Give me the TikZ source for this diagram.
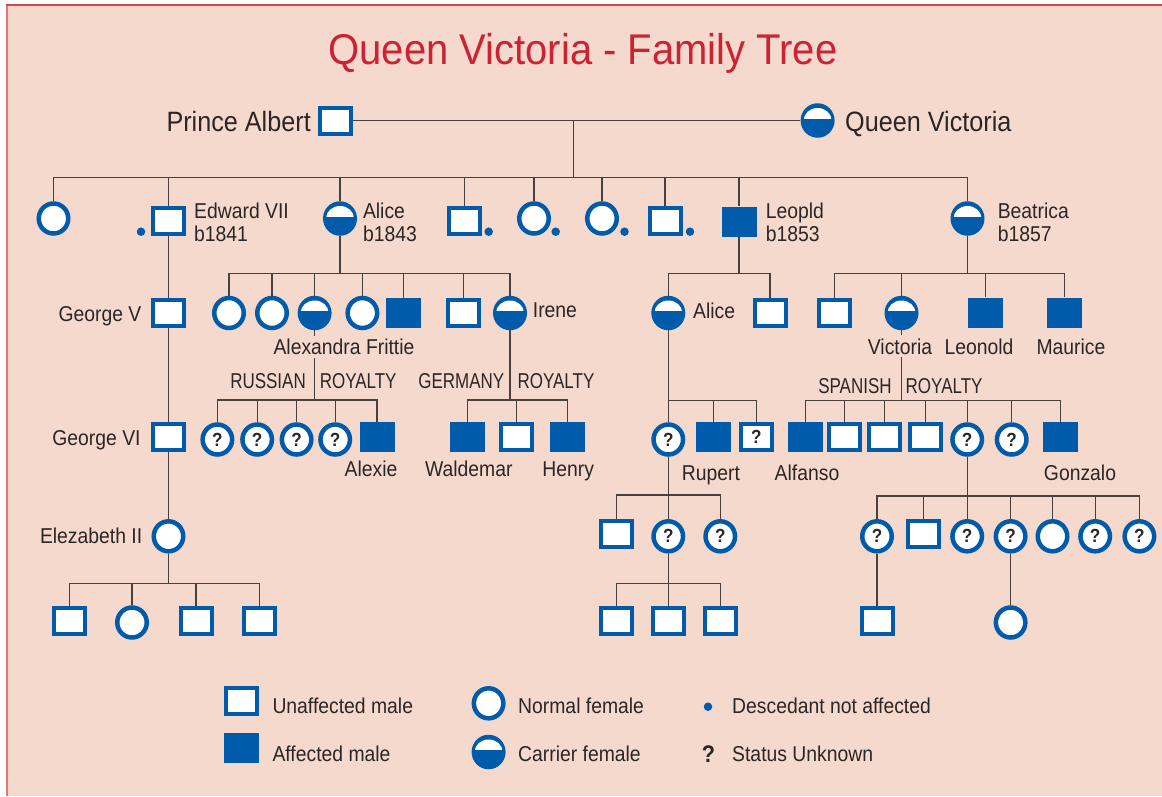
\documentclass[tikz,border=0pt]{standalone}
\usepackage{fontspec}
\setmainfont{Liberation Sans}[FakeStretch=0.9]
\newfontfamily\titlefont{Liberation Sans}[FakeStretch=0.93]
\newfontfamily\capsfont{Liberation Sans}[FakeStretch=0.79]
\usetikzlibrary{shapes.geometric}
\definecolor{bgc}{HTML}{F5D9CD}
\definecolor{ped}{HTML}{005BAA}
\definecolor{lnc}{HTML}{4A3F3F}
\definecolor{txc}{HTML}{2B2626}
\definecolor{ttl}{HTML}{CC2233}
\definecolor{brl}{HTML}{E27878}
\definecolor{brt}{HTML}{D04848}
\pgfdeclarelayer{back}
\pgfdeclarelayer{lines}
\pgfsetlayers{back,lines,main}
\newcommand\qsym{\fontsize{19}{19}\selectfont\bfseries ?}
\begin{document}
\begin{tikzpicture}[x=1pt,y=-1pt,
  um/.style={rectangle,draw=ped,line width=4pt,fill=white,minimum width=31pt,minimum height=26pt,inner sep=0pt,text=txc},
  am/.style={rectangle,fill=ped,minimum width=35pt,minimum height=30pt,inner sep=0pt},
  nf/.style={ellipse,draw=ped,line width=4.5pt,fill=white,minimum width=29.5pt,minimum height=30pt,inner sep=0pt,text=txc},
  cf/.style={ellipse,fill=ped,minimum width=34pt,minimum height=34.5pt,inner sep=0pt,
    path picture={
      \begin{scope}
      \clip ([yshift=2.5pt]path picture bounding box.center) ++(-20pt,0pt) rectangle ++(40pt,20pt);
      \fill[white] (path picture bounding box.center) ellipse [x radius=14pt,y radius=12.5pt];
      \end{scope}}},
  dot/.style={circle,fill=ped,minimum size=8.5pt,inner sep=0pt},
  lab/.style={font=\fontsize{21.5}{24}\selectfont,text=txc,inner sep=0pt},
  caps/.style={font=\capsfont\fontsize{21.5}{24}\selectfont,text=txc,inner sep=0pt},
  big/.style={font=\fontsize{28}{30}\selectfont,text=txc,inner sep=0pt},
  con/.style={draw=lnc,line width=1.2pt}]
\useasboundingbox (0,0) rectangle (1162,796);
\begin{pgfonlayer}{back}
\fill[bgc] (6,4) rectangle (1162,796);
\draw[brl,line width=2.5pt] (7.2,4) -- (7.2,796);
\draw[brt,line width=2pt] (6,5) -- (1162,5);
\end{pgfonlayer}

% title
\node[inner sep=0pt,anchor=base,text=ttl,font=\titlefont\fontsize{43}{45}\selectfont] (title) at (583,64) {Queen Victoria - Family Tree};

% generation 0
\node[um] (pa) at (335.6,120.5) {};
\node[cf] (qv) at (817.6,120.5) {};
\node[big,anchor=base east] (tpa) at (311,131.7) {Prince Albert};
\node[big,anchor=base west] (tqv) at (845,131.7) {Queen Victoria};

% generation 1
\node[nf] (c1) at (53.5,218.5) {};
\node[um] (ed) at (168.5,221) {};
\node[cf] (al) at (340,218.5) {};
\node[um] (c4) at (464.6,221) {};
\node[nf] (c5) at (534,218.5) {};
\node[nf] (c6) at (602,218.5) {};
\node[um] (c7) at (665,221) {};
\node[am] (le) at (739,221.5) {};
\node[cf] (be) at (967.5,218.5) {};
\node[dot] (d1) at (141,231.7) {};
\node[dot] (d2) at (488.7,231.7) {};
\node[dot] (d3) at (555.7,231.7) {};
\node[dot] (d4) at (624.5,231.7) {};
\node[dot] (d5) at (690,231.7) {};
\node[lab,anchor=base west] (ted1) at (194,218.3) {Edward VII};
\node[lab,anchor=base west] (ted2) at (194,241.7) {b1841};
\node[lab,anchor=base west] (tal1) at (362.8,218.3) {Alice};
\node[lab,anchor=base west] (tal2) at (362.8,241.7) {b1843};
\node[lab,anchor=base west] (tle1) at (765.6,218.3) {Leopld};
\node[lab,anchor=base west] (tle2) at (765.6,241.7) {b1853};
\node[lab,anchor=base west] (tbe1) at (997.6,218.3) {Beatrica};
\node[lab,anchor=base west] (tbe2) at (997.6,241.7) {b1857};

% generation 2
\node[um] (g5) at (168.5,312.5) {};
\node[lab,anchor=base east] (tg5) at (141.6,321.7) {George V};
\node[nf] (a1) at (229,313) {};
\node[nf] (a2) at (272,313) {};
\node[cf] (a3) at (314.6,313) {};
\node[nf] (a4) at (362.4,313) {};
\node[am] (a5) at (403.7,313.3) {};
\node[um] (a6) at (463.8,313.3) {};
\node[cf] (a7) at (510,313) {};
\node[lab,anchor=base west] (tir) at (532.7,317.5) {Irene};
\node[lab,anchor=base,fill=bgc,inner sep=3pt] (tax) at (344,354.3) {Alexandra Frittie};
\node[cf] (lal) at (668.3,313) {};
\node[um] (l2) at (770,312.5) {};
\node[lab,anchor=base west] (tlal) at (693,318) {Alice};
\node[um] (b1) at (834.6,312.5) {};
\node[cf] (bv) at (901.5,313) {};
\node[am] (b3) at (985.3,312.5) {};
\node[am] (b4) at (1064.4,312.5) {};
\node[lab,anchor=base,fill=bgc,inner sep=3pt] (tbv) at (900,354) {Victoria};
\node[lab,anchor=base] (tb3) at (979,354) {Leonold};
\node[lab,anchor=base] (tb4) at (1071,354) {Maurice};

% generation 3
\node[caps,anchor=base east] (tru1) at (306,388.3) {RUSSIAN};
\node[caps,anchor=base west] (tru2) at (319.6,388.3) {ROYALTY};
\node[caps,anchor=base east] (tge1) at (504.4,388.3) {GERMANY};
\node[caps,anchor=base west] (tge2) at (517.4,388.3) {ROYALTY};
\node[caps,anchor=base east] (tsp1) at (891.8,393.3) {SPANISH};
\node[caps,anchor=base west] (tsp2) at (905.5,393.3) {ROYALTY};
\node[um] (g6) at (168.5,436.8) {};
\node[lab,anchor=base east] (tg6) at (140.8,445) {George VI};
\node[nf] (q1) at (217.4,439.5) {\qsym};
\node[nf] (q2) at (257.2,439.5) {\qsym};
\node[nf] (q3) at (296.6,439.5) {\qsym};
\node[nf] (q4) at (335.2,439.5) {\qsym};
\node[am] (ax) at (377,436.7) {};
\node[lab,anchor=base] (tax2) at (371,476.7) {Alexie};
\node[am] (wa) at (467.7,436.7) {};
\node[um] (gm) at (516.6,436.7) {};
\node[am] (he) at (567.5,436.7) {};
\node[lab,anchor=base] (twa) at (468.8,476.7) {Waldemar};
\node[lab,anchor=base] (the) at (568.3,476.7) {Henry};
\node[nf] (rq1) at (668.3,439.5) {\qsym};
\node[am] (ru) at (713.6,437) {};
\node[um] (rq3) at (756.3,437) {\qsym};
\node[lab,anchor=base] (tru) at (711,480) {Rupert};
\node[am] (s1) at (805.7,437) {};
\node[um] (s2) at (844.3,437) {};
\node[um] (s3) at (884.4,437) {};
\node[um] (s4) at (925.2,437) {};
\node[nf] (s5) at (967.2,439.5) {\qsym};
\node[nf] (s6) at (1011.7,439.5) {\qsym};
\node[am] (s7) at (1060.7,437) {};
\node[lab,anchor=base] (ts1) at (807,480) {Alfanso};
\node[lab,anchor=base] (ts7) at (1080,480) {Gonzalo};

% generation 4
\node[nf] (el) at (168.5,536.3) {};
\node[lab,anchor=base east] (tel) at (142.4,543.3) {Elezabeth II};
\node[um] (t1) at (616.4,534) {};
\node[nf] (t2) at (668.3,536.3) {\qsym};
\node[nf] (t3) at (720.3,536.3) {\qsym};
\node[nf] (u1) at (877,536.3) {\qsym};
\node[um] (u2) at (923.4,534) {};
\node[nf] (u3) at (967.2,536.3) {\qsym};
\node[nf] (u4) at (1010.6,536.3) {\qsym};
\node[nf] (u5) at (1052.5,536.3) {};
\node[nf] (u6) at (1095.2,536.3) {\qsym};
\node[nf] (u7) at (1139.4,536.3) {\qsym};

% generation 5
\node[um] (e1) at (69.7,620.5) {};
\node[nf] (e2) at (132,622.5) {};
\node[um] (e3) at (196,620.5) {};
\node[um] (e4) at (259.5,620.5) {};
\node[um] (v1) at (616.4,620.5) {};
\node[um] (v2) at (668.3,620.5) {};
\node[um] (v3) at (720.3,620.5) {};
\node[um] (w1) at (877,620.5) {};
\node[nf] (w2) at (1010.6,622.5) {};

% legend
\node[um] (lg1) at (241,700.5) {};
\node[am] (lg2) at (241,747.7) {};
\node[nf] (lg3) at (488.6,703.3) {};
\node[cf] (lg4) at (488.6,752) {};
\node[dot] (lg5) at (708,706.7) {};
\node[anchor=base,inner sep=0pt,text=txc,font=\fontsize{24}{24}\selectfont\bfseries] (lg6) at (708.5,762) {?};
\node[lab,anchor=base west] (tl1) at (272.3,713.3) {Unaffected male};
\node[lab,anchor=base west] (tl2) at (272.3,761.7) {Affected male};
\node[lab,anchor=base west] (tl3) at (518,713.3) {Normal female};
\node[lab,anchor=base west] (tl4) at (518,761.7) {Carrier female};
\node[lab,anchor=base west] (tl5) at (732,713.3) {Descedant not affected};
\node[lab,anchor=base west] (tl6) at (732,761.7) {Status Unknown};

% connectors
\begin{pgfonlayer}{lines}
\draw[con] (pa.east) -- (qv.west);
\coordinate (m0) at (573.5,120.5);
\coordinate (j1) at (573.5,177.7);
\draw[con] (m0) -- (j1);
\foreach \c in {c1,ed,al,c4,c5,c6,c7,le,be} \draw[con] (j1) -| (\c.north);
\draw[con] (ed.south) -- (g5.north);
\draw[con] (g5.south) -- (g6.north);
\draw[con] (g6.south) -- (el.north);
\coordinate (j2a) at (340,273.3);
\draw[con] (al.south) -- (j2a);
\foreach \c in {a1,a2,a3,a4,a5,a6,a7} \draw[con] (j2a) -| (\c.north);
\coordinate (j2b) at (739,273.3);
\draw[con] (le.south) -- (j2b);
\foreach \c in {lal,l2} \draw[con] (j2b) -| (\c.north);
\coordinate (j2c) at (967.5,273.3);
\draw[con] (be.south) -- (j2c);
\foreach \c in {b1,bv,b3,b4} \draw[con] (j2c) -| (\c.north);
\coordinate (j3a) at (314.6,400);
\draw[con] (a3.south) -- (j3a);
\foreach \c in {q1,q2,q3,q4,ax} \draw[con] (j3a) -| (\c.north);
\coordinate (j3b) at (510,400);
\draw[con] (a7.south) -- (j3b);
\foreach \c in {wa,gm,he} \draw[con] (j3b) -| (\c.north);
\coordinate (j3c) at (668.3,400.7);
\draw[con] (lal.south) -- (j3c);
\foreach \c in {rq1,ru,rq3} \draw[con] (j3c) -| (\c.north);
\coordinate (j3d) at (901.5,400.7);
\draw[con] (bv.south) -- (j3d);
\foreach \c in {s1,s2,s3,s4,s5,s6,s7} \draw[con] (j3d) -| (\c.north);
\coordinate (j4a) at (668.3,495);
\draw[con] (rq1.south) -- (j4a);
\foreach \c in {t1,t2,t3} \draw[con] (j4a) -| (\c.north);
\coordinate (j4b) at (967.2,496);
\draw[con] (s5.south) -- (j4b);
\foreach \c in {u1,u2,u3,u4,u5,u6,u7} \draw[con] (j4b) -| (\c.north);
\coordinate (j5a) at (168.5,583.3);
\draw[con] (el.south) -- (j5a);
\foreach \c in {e1,e2,e3,e4} \draw[con] (j5a) -| (\c.north);
\coordinate (j5b) at (668.3,583.3);
\draw[con] (t2.south) -- (j5b);
\foreach \c in {v1,v2,v3} \draw[con] (j5b) -| (\c.north);
\draw[con] (u1.south) -- (w1.north);
\draw[con] (u4.south) -- (w2.north);
\end{pgfonlayer}
\end{tikzpicture}
\end{document}
